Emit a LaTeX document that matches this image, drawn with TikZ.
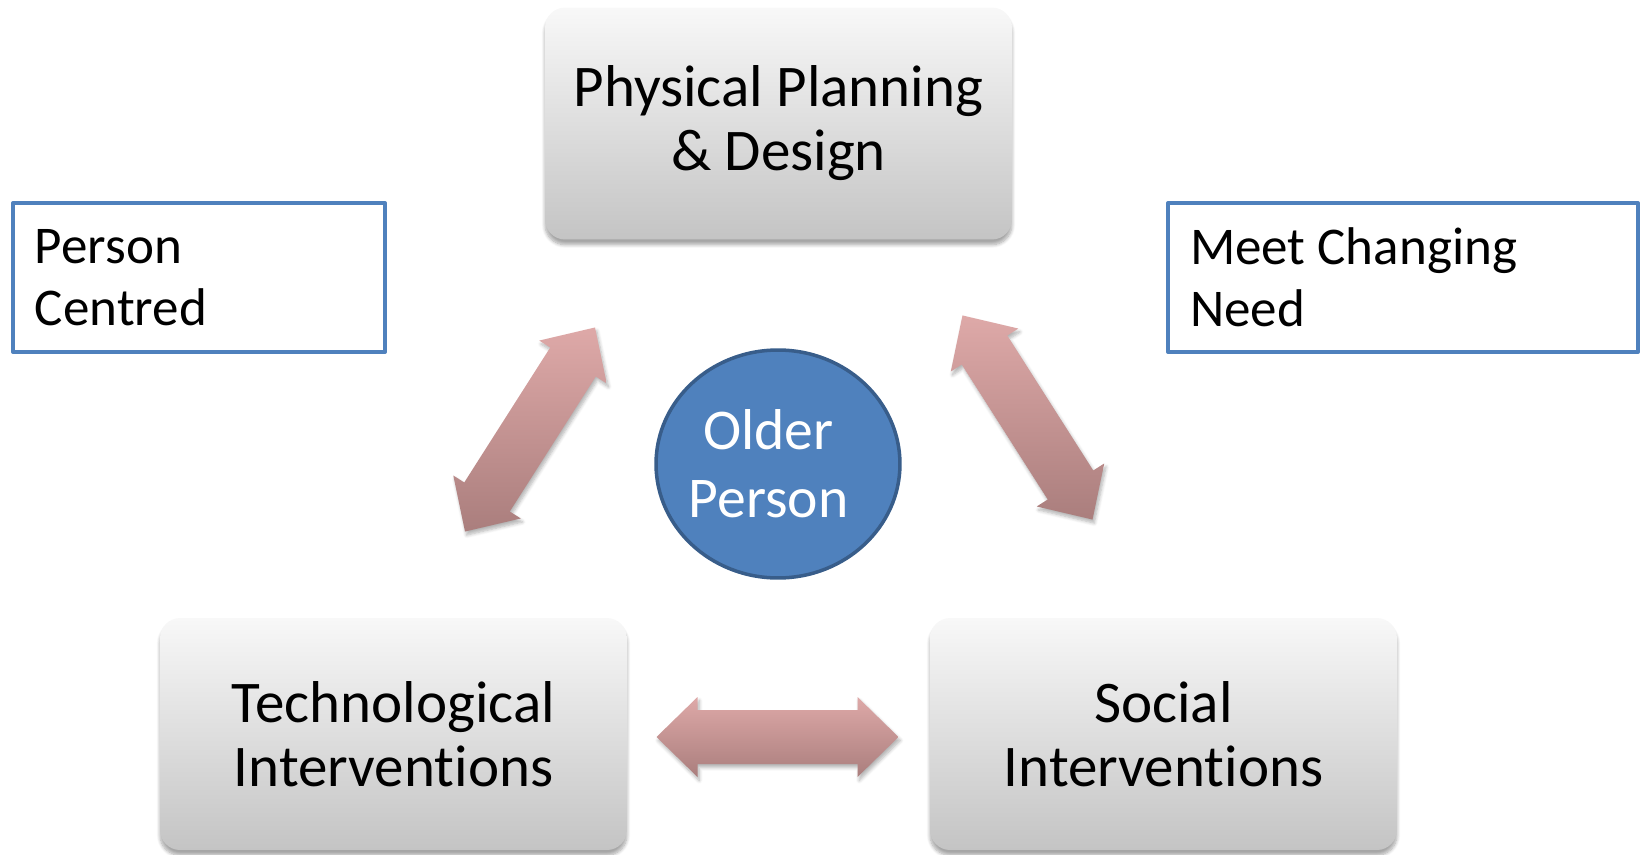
\documentclass[tikz,border=0pt]{standalone}
\usepackage{fontspec}
\setmainfont{Carlito}[Ligatures={NoCommon},Contextuals={NoAlternate}]
\usetikzlibrary{shapes.geometric,shadows.blur}

\definecolor{boxtop}{HTML}{F8F8F8}
\definecolor{boxbottom}{HTML}{C4C4C4}
\definecolor{coreblue}{HTML}{4F81BD}
\definecolor{coreedge}{HTML}{385D8A}
\definecolor{arrowtop}{HTML}{DEA9A8}
\definecolor{arrowbottom}{HTML}{AA7E7D}

\begin{document}
\begin{tikzpicture}[
    x=0.02cm,
    y=-0.02cm,
    line join=round,
    areabox/.style={rectangle, rounded corners=0.4cm,
        minimum width=9.34cm, minimum height=4.64cm,
        top color=boxtop, bottom color=boxbottom,
        align=center, font=\fontsize{33.6}{36.5}\selectfont,
        blur shadow={shadow xshift=0pt, shadow yshift=-3pt,
            shadow opacity=35, shadow blur steps=8}},
    notebox/.style={rectangle, draw=coreblue, line width=2.3pt, fill=white,
        minimum height=2.98cm, inner xsep=0.44cm, outer sep=0pt,
        anchor=north west, align=flush left,
        font=\fontsize{30.2}{35.3}\selectfont},
    core/.style={ellipse, fill=coreblue, draw=coreedge, line width=2pt,
        minimum width=4.88cm, minimum height=4.56cm, inner sep=0pt},
    corelabel/.style={text=white, align=center, xshift=-0.19cm,
        font=\fontsize{32.8}{38.7}\selectfont},
    linkarrow/.pic={
        \shade[top color=arrowtop, bottom color=arrowbottom,
            blur shadow={shadow xshift=1pt, shadow yshift=-2pt,
                shadow opacity=30, shadow blur steps=6}]
            (-121,0) -- (-80,-40) -- (-80,-27) -- (80,-27) -- (80,-40)
            -- (121,0) -- (80,40) -- (80,27) -- (-80,27) -- (-80,40) -- cycle;
    }
]

\useasboundingbox (0,0) rectangle (1640,855);

% -------------------------------------------------
% Three areas of intervention
% -------------------------------------------------

\node[areabox] (plan)   at (778.5,123.5) {Physical Planning\\\& Design};
\node[areabox] (tech)   at (393.5,734)   {Technological\\Interventions};
\node[areabox] (social) at (1163.5,734)  {Social\\Interventions};

% -------------------------------------------------
% Centre
% -------------------------------------------------

\node[core, label={[corelabel]center:Older\\Person}] (older) at (778,464) {};

% -------------------------------------------------
% Side notes
% -------------------------------------------------

\node[notebox, text width=6.56cm] (centred) at (13,203)   {Person\\Centred};
\node[notebox, text width=8.52cm] (change)  at (1168,203) {Meet Changing\\Need};

% -------------------------------------------------
% Two-way links between the areas
% -------------------------------------------------

\coordinate (linkL) at (530,429.5);
\coordinate (linkR) at (1027.5,417.5);
\coordinate (linkB) at (777.5,737);

\pic[rotate=57.5]  at (linkL) {linkarrow};
\pic[rotate=-57.5] at (linkR) {linkarrow};
\pic               at (linkB) {linkarrow};

\end{tikzpicture}
\end{document}
